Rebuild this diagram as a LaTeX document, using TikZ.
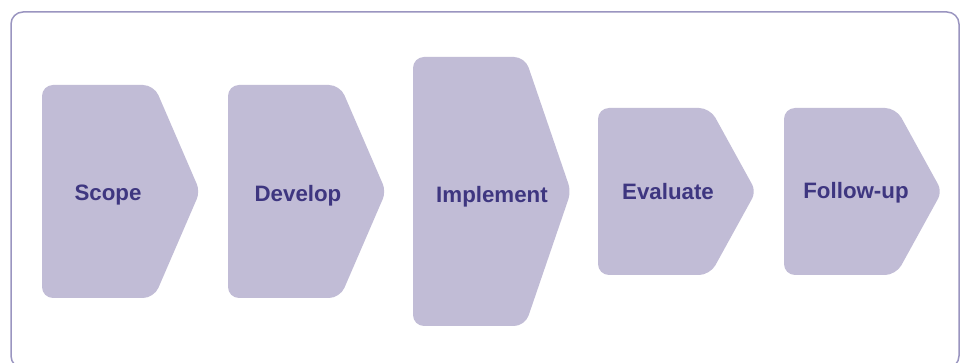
\documentclass[tikz,border=0pt]{standalone}
\usepackage{fontspec}
\setmainfont{Liberation Sans}
\usepackage{tikz}
\usetikzlibrary{positioning}
\definecolor{stagefill}{HTML}{C1BCD6}
\definecolor{stagetext}{HTML}{3E3680}
\definecolor{framecol}{HTML}{9A95C0}
\tikzset{
    frame/.style={draw=framecol, line width=1.5pt, rounded corners=12pt, fill=white},
    stagebox/.style={fill=stagefill, draw=none, rounded corners=11pt},
    label/.style={text=stagetext, font=\fontsize{22.3}{26}\selectfont\bfseries, inner sep=0pt}
}

\begin{document}
\begin{tikzpicture}[x=1pt, y=-1pt]
        \useasboundingbox (0,0) rectangle (962,363);

        % Outer frame
        \draw[frame] (11,12) rectangle (959,368);

        % Stages (left edge, top, bottom)
        \fill[stagebox] (42,85) -- (154,85) [rounded corners=8pt] -- (200,191.5) [rounded corners=11pt] -- (154,298) -- (42,298) -- cycle;
        \fill[stagebox] (228,85) -- (340,85) [rounded corners=8pt] -- (386,191.5) [rounded corners=11pt] -- (340,298) -- (228,298) -- cycle;
        \fill[stagebox] (413,57) -- (525,57) [rounded corners=8pt] -- (571,191.5) [rounded corners=11pt] -- (525,326) -- (413,326) -- cycle;
        \fill[stagebox] (598,108) -- (710,108) [rounded corners=8pt] -- (756,191.5) [rounded corners=11pt] -- (710,275) -- (598,275) -- cycle;
        \fill[stagebox] (784,108) -- (896,108) [rounded corners=8pt] -- (942,191.5) [rounded corners=11pt] -- (896,275) -- (784,275) -- cycle;

        % Stage names
        \node (scope) [label] at (108,195) {Scope};
        \node (develop) [label] at (298,196) {Develop};
        \node (implement) [label] at (492,197) {Implement};
        \node (evaluate) [label] at (668,192) {Evaluate};
        \node (followup) [label] at (856,193) {Follow-up};

    \end{tikzpicture}
\end{document}
